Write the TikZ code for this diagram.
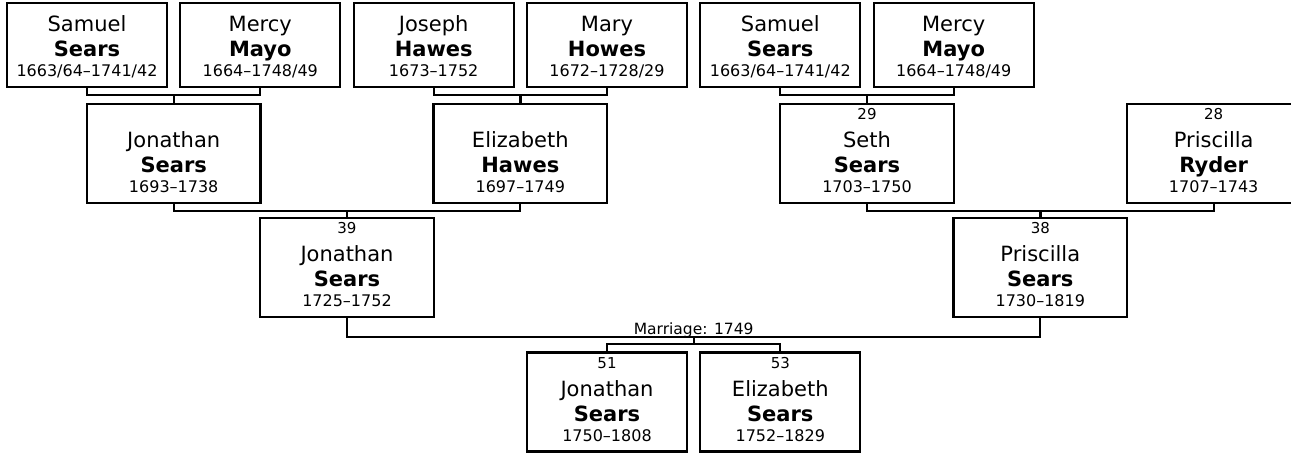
\documentclass[tikz,border=0pt]{standalone}
\usepackage{fontspec}
\setmainfont{DejaVu Sans}
\usetikzlibrary{calc}
\tikzset{
  pbox/.style={draw, line width=2.3pt, inner sep=0pt, outer sep=0pt, anchor=north},
  txt/.style={inner sep=0pt, outer sep=0pt, anchor=base},
  numtxt/.style={txt, font=\fontsize{15}{17}\selectfont},
  nametxt/.style={txt, font=\fontsize{21}{24}\selectfont},
  surtxt/.style={txt, font=\fontsize{21}{24}\selectfont\bfseries},
  datetxt/.style={txt, font=\fontsize{16}{18}\selectfont},
  marrtxt/.style={txt, font=\fontsize{15.5}{18}\selectfont},
  link/.style={draw, line width=2.3pt}
}
\newcommand{\personbox}[9]{%
  \node[pbox, minimum width=#4, minimum height=#5] (#1) at (#2,-#3) {};
  \if\relax\detokenize{#6}\relax\else
    \node[numtxt] (#1-n) at ([yshift=83]#1.south) {#6};
  \fi
  \node[nametxt] (#1-f) at ([yshift=55.5]#1.south) {#7};
  \node[surtxt] (#1-l) at ([yshift=30.5]#1.south) {#8};
  \node[datetxt] (#1-d) at ([yshift=10.5]#1.south) {#9};
}
\newcommand{\famlink}[5]{%
  \coordinate (#4) at ($(#1.south)!0.5!(#2.south)+(0,-#3)$);
  \draw[link] (#1.south) |- (#4) -| (#2.south);
  \draw[link] (#4) -- (#4 |- #5.north);
}
\begin{document}
\begin{tikzpicture}[x=1pt,y=1pt]
\useasboundingbox (0,0) rectangle (1291,-453);
\clip (0,0) rectangle (1291,-453);
% row 1
\personbox{a1}{87}{3}{160}{84.3}{}{Samuel}{Sears}{1663/64–1741/42}
\personbox{a2}{260.3}{3}{160}{84.3}{}{Mercy}{Mayo}{1664–1748/49}
\personbox{a3}{433.7}{3}{160}{84.3}{}{Joseph}{Hawes}{1673–1752}
\personbox{a4}{607}{3}{160}{84.3}{}{Mary}{Howes}{1672–1728/29}
\personbox{a5}{780.3}{3}{160}{84.3}{}{Samuel}{Sears}{1663/64–1741/42}
\personbox{a6}{953.7}{3}{160}{84.3}{}{Mercy}{Mayo}{1664–1748/49}
% row 2
\personbox{b1}{173.7}{104}{173.33}{98.7}{}{Jonathan}{Sears}{1693–1738}
\personbox{b2}{520.3}{104}{173.33}{98.7}{}{Elizabeth}{Hawes}{1697–1749}
\personbox{b3}{867}{104}{173.33}{98.7}{29}{Seth}{Sears}{1703–1750}
\personbox{b4}{1213.7}{104}{173.33}{98.7}{28}{Priscilla}{Ryder}{1707–1743}
% row 3
\personbox{c1}{347}{217.7}{173.33}{99}{39}{Jonathan}{Sears}{1725–1752}
\personbox{c2}{1040.3}{217.7}{173.33}{99}{38}{Priscilla}{Sears}{1730–1819}
% row 4
\personbox{d1}{607}{352.5}{160}{99}{51}{Jonathan}{Sears}{1750–1808}
\personbox{d2}{780.3}{352.5}{160}{99}{53}{Elizabeth}{Sears}{1752–1829}
% links
\famlink{a1}{a2}{7.7}{j1}{b1}
\famlink{a3}{a4}{7.7}{j2}{b2}
\famlink{a5}{a6}{7.7}{j3}{b3}
\famlink{b1}{b2}{8}{j4}{c1}
\famlink{b3}{b4}{8}{j5}{c2}
\coordinate (j6) at ($(c1.south)!0.5!(c2.south)+(0,-20.6)$);
\draw[link] (c1.south) |- (j6) -| (c2.south);
\coordinate (k6) at ($(j6)+(0,-7)$);
\draw[link] (j6) -- (k6);
\draw[link] (d1.north) |- (k6) -| (d2.north);
\node[marrtxt] (mlabel) at ([yshift=3]j6) {Marriage: 1749};
\end{tikzpicture}
\end{document}
